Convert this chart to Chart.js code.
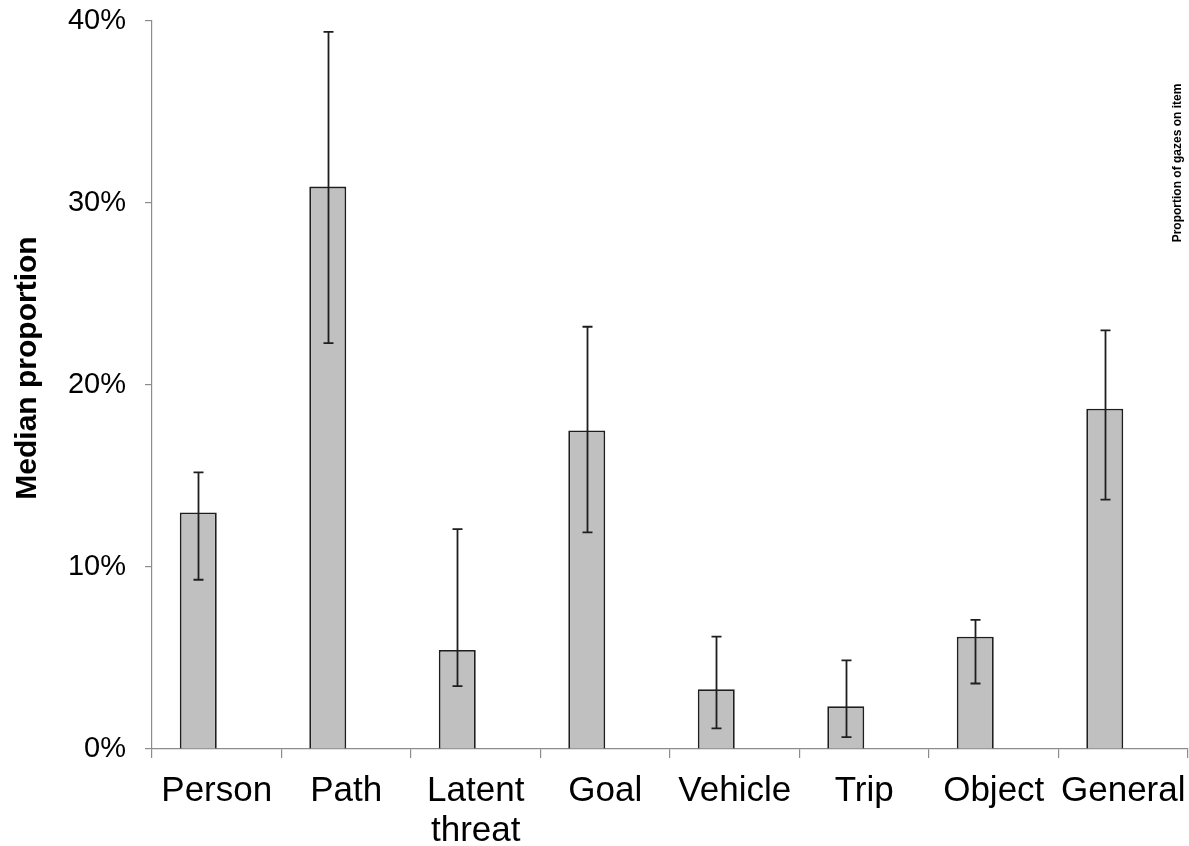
<!DOCTYPE html>
<html>
<head>
<meta charset="utf-8">
<script src="https://cdn.jsdelivr.net/npm/chart.js@4.4.1/dist/chart.umd.min.js"></script>
<style>
  html, body { margin: 0; padding: 0; background: #ffffff; }
  #wrap { width: 1189px; height: 846px; position: relative; }
</style>
</head>
<body>
<div id="wrap"><canvas id="c"></canvas></div>
<script>
// Categories of gaze targets
const categories = ['Person', 'Path', ['Latent', 'threat'], 'Goal', 'Vehicle', 'Trip', 'Object', 'General'];
// Median proportion of gazes (%) per category
const medians = [13.0, 30.9, 5.44, 17.5, 3.28, 2.35, 6.17, 18.7];
// Error bar bounds (%)
const errLow = [9.3, 22.3, 3.45, 11.9, 1.13, 0.65, 3.6, 13.7];
const errHigh = [15.2, 39.4, 12.08, 23.2, 6.17, 4.87, 7.1, 23.0];
// Value-axis ticks (%)
const yTicks = [0, 10, 20, 30, 40];

const FONT = '"Liberation Sans", Arial, sans-serif';
const AXIS_GREY = '#8c8c8c';

const errorBars = {
  id: 'errorBars',
  afterDatasetsDraw(chart) {
    const { ctx } = chart;
    const y = chart.scales.y;
    const meta = chart.getDatasetMeta(0);
    ctx.save();
    ctx.strokeStyle = '#1e1e1e';
    ctx.lineWidth = 1.8;
    meta.data.forEach((bar, i) => {
      const x = Math.round(bar.x) + 0.5;
      const yl = y.getPixelForValue(errLow[i]);
      const yh = y.getPixelForValue(errHigh[i]);
      ctx.beginPath();
      ctx.moveTo(x, yl); ctx.lineTo(x, yh);
      ctx.moveTo(x - 5, yl); ctx.lineTo(x + 5, yl);
      ctx.moveTo(x - 5, yh); ctx.lineTo(x + 5, yh);
      ctx.stroke();
    });
    ctx.restore();
  }
};

const sideTexts = {
  id: 'sideTexts',
  afterDraw(chart) {
    const { ctx } = chart;
    ctx.save();
    ctx.fillStyle = '#000';
    ctx.textAlign = 'center';
    ctx.textBaseline = 'middle';
    // value-axis title
    ctx.save();
    ctx.translate(28, 368);
    ctx.rotate(-Math.PI / 2);
    ctx.font = 'bold 30px ' + FONT;
    ctx.fillText('Median proportion', 0, 0);
    ctx.restore();
    // series name
    ctx.save();
    ctx.translate(1178, 163);
    ctx.rotate(-Math.PI / 2);
    ctx.font = 'bold 12px ' + FONT;
    ctx.fillText('Proportion of gazes on item', 0, 0);
    ctx.restore();
    ctx.restore();
  }
};

new Chart(document.getElementById('c'), {
  type: 'bar',
  data: {
    labels: categories,
    datasets: [
      {
        label: 'Proportion of gazes on item',
        data: medians,
        backgroundColor: '#c0c0c0',
        borderColor: '#1e1e1e',
        borderWidth: { top: 1.8, left: 1.8, right: 1.8, bottom: 0 },
        categoryPercentage: 0.571,
        barPercentage: 1.0
      },
      {
        label: '',
        data: categories.map(() => null),
        categoryPercentage: 0.571,
        barPercentage: 1.0
      }
    ]
  },
  options: {
    responsive: true,
    maintainAspectRatio: false,
    animation: false,
    layout: { padding: { top: 21, right: 1, left: 0, bottom: 0 } },
    plugins: { legend: { display: false }, tooltip: { enabled: false } },
    scales: {
      x: {
        grid: { offset: true, drawOnChartArea: false, drawTicks: true, tickLength: 9, color: AXIS_GREY, lineWidth: 1.2 },
        border: { color: AXIS_GREY, width: 1.2 },
        ticks: { color: '#000', font: { family: FONT, size: 35, lineHeight: 1.15 }, padding: 13, maxRotation: 0, autoSkip: false },
        afterFit(scale) { scale.height = 97; scale.paddingLeft = 0; scale.paddingRight = 0; }
      },
      y: {
        min: 0, max: 40,
        afterBuildTicks(scale) { scale.ticks = yTicks.map(v => ({ value: v })); },
        grid: { drawOnChartArea: false, drawTicks: true, tickLength: 7, color: AXIS_GREY, lineWidth: 1.2 },
        border: { color: AXIS_GREY, width: 1.2 },
        ticks: { color: '#000', font: { family: FONT, size: 29 }, padding: 19, callback: v => v + '%' },
        afterFit(scale) { scale.width = 152; scale.paddingTop = 0; scale.paddingBottom = 0; }
      }
    }
  },
  plugins: [errorBars, sideTexts]
});
</script>
</body>
</html>
